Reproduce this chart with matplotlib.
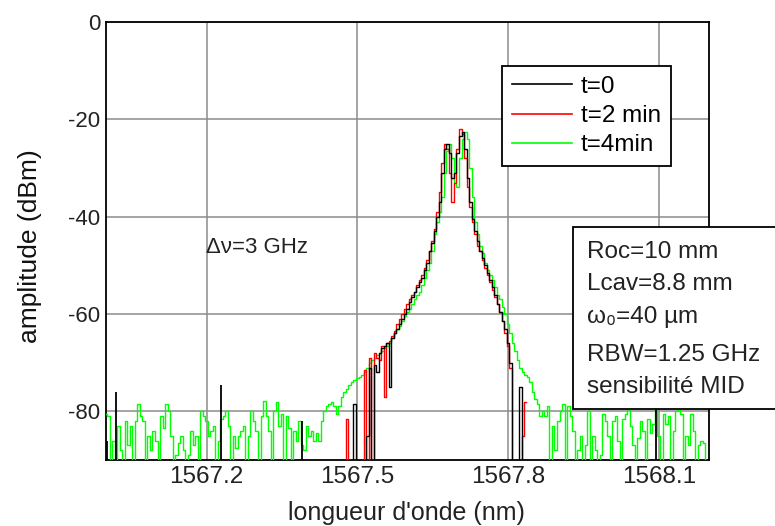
import numpy as np
import matplotlib
matplotlib.use("Agg")
import matplotlib.pyplot as plt
from matplotlib.patches import Rectangle
from matplotlib.lines import Line2D

plt.rcParams['font.family'] = ['Liberation Sans', 'DejaVu Sans']

# ---- data -------------------------------------------------------------
# sampling grid of the spectrum analyser trace (nm), 0.005 nm step
wavelength = np.linspace(1567.0, 1568.2, 241)

# t = 4 min (green) : full trace, values below -90 dBm are under the floor
green_db = [
    -80.5, -81, -95, -86, -95, -83, -88, -95, -82, -87,
    -83, -95, -82, -78.5, -81, -82, -95, -85, -88, -84,
    -86, -95, -81, -83.5, -78.5, -80, -85, -95, -89, -86.5,
    -85, -88, -95, -89, -84, -87, -85, -95, -80, -81,
    -82, -85, -84, -83, -95, -86, -81.5, -81, -80, -83,
    -95, -85, -87.5, -85, -84, -83, -95, -85, -80, -82,
    -84, -95, -81, -77.8, -81, -84, -95, -80, -78, -83,
    -80.5, -95, -81, -83.5, -95, -84, -86, -82, -87, -88,
    -83, -85, -84, -86, -84.5, -86,
    -82, -80, -79, -78.5, -78, -79, -80.5, -79, -77, -76,
    -75.5, -74.5, -74, -73.5, -73.2, -73, -72.5, -72, -71, -70,
    -69.5, -69, -68.5, -68, -67.5, -67, -66.5, -66, -65, -64,
    -63, -62.5, -61.5, -60.5, -59.5, -59, -58, -57, -56, -55.5,
    -54, -52.5, -51, -49.5, -47, -43.5, -41, -39, -36, -31,
    -26.5, -25, -28, -33, -34, -28, -24, -22.5, -24, -30,
    -36, -41, -43.5, -46, -47.5, -49.5, -51, -52, -53, -54.5,
    -56, -57, -58.5, -60, -62, -64, -66, -67.5, -69.5, -71,
    -72, -72.5, -73, -74, -76, -77.5, -78.5, -81, -80,
    -81, -79, -95, -83, -88, -82, -80, -78.5, -95, -79,
    -81, -84, -95, -88, -85, -95, -87, -80, -95, -85,
    -88, -95, -89, -80.5, -82, -85, -95, -82, -81, -86,
    -95, -81.5, -80.5, -78, -83, -87, -95, -85.5, -82, -84,
    -95, -81.5, -84.5, -82.5, -78, -85, -95, -80.5, -82.5, -81,
    -95, -84, -80, -78, -80.5, -95, -85, -87, -80.5, -84,
    -95, -87, -86, -86.5, -95, -95,
]

# t = 0 (black) and t = 2 min (red): central part of the trace (grid points 95..167)
core_start = 95
black_db = [
    -100, -100, -100, -100, -78.5, -100, -100, -100, -100, -85,
    -71, -100, -70.5, -72, -68, -67, -66.5, -66, -75, -65,
    -64, -63, -62, -61, -60, -59, -57.5, -56.5, -55.5, -54.5,
    -53.5, -52.5, -51, -49.5, -47, -45.5, -43, -40, -37, -31,
    -26, -25, -27, -32, -31, -27, -23.5, -22.5, -26, -32,
    -37, -40.5, -43, -45, -47, -48.5, -50, -51.5, -53, -54.5,
    -56, -58, -59.5, -61.5, -63, -66, -70, -100, -100, -100,
    -75, -100, -100,
]
red_db = [
    -100, -81.5, -100, -100, -100, -100, -100, -100, -71.5, -100,
    -69, -100, -68, -69, -69.5, -66.5, -77, -66, -65.5, -64.5,
    -63.5, -62, -61, -60, -59, -58, -57, -56, -55.5, -54,
    -53, -52, -50.5, -49, -47, -45, -42.5, -39, -35, -29,
    -25, -26, -31, -37, -33, -26, -22, -23, -28, -34,
    -38, -41, -43.5, -46, -47, -49, -50.5, -52, -53.5, -55,
    -56.5, -58, -59.5, -61.5, -64, -66.5, -71, -100, -100, -100,
    -100, -85, -78,
]
# isolated black spikes rising out of the noise floor
black_spike_wl = [1567.002, 1567.019, 1567.229, 1567.390, 1568.094]
black_spike_db = [-86, -76, -74.5, -82, -79]

labels = ['t=0', 't=2 min', 't=4min']
colors = ['#000000', '#ff0000', '#00ff00']
xticks = [1567.2, 1567.5, 1567.8, 1568.1]
yticks = [0, -20, -40, -60, -80]
info_lines = ['Roc=10 mm', 'Lcav=8.8 mm', 'ω₀=40 µm', 'RBW=1.25 GHz', 'sensibilité MID']

# ---- figure -----------------------------------------------------------
W, H = 775, 526
fig = plt.figure(figsize=(W / 100, H / 100), dpi=100)
ax = fig.add_axes([106 / W, 1 - 460 / H, (709 - 106) / W, (460 - 22) / H])

core_wl = wavelength[core_start:core_start + len(black_db)]
lw = 1.0
ax.plot(wavelength, green_db, color=colors[2], lw=lw, drawstyle='steps-mid', zorder=3)
ax.plot(core_wl, red_db, color=colors[1], lw=lw, drawstyle='steps-mid', zorder=4)
ax.plot(core_wl, black_db, color=colors[0], lw=lw, drawstyle='steps-mid', zorder=5)
ax.vlines(black_spike_wl, -100, black_spike_db, color=colors[0], lw=1.3, zorder=5)

ax.set_xlim(1567.0, 1568.2)
ax.set_ylim(-90, 0)
ax.set_xticks(xticks)
ax.set_xticklabels([f'{v:.1f}' for v in xticks], fontsize=17.5, color='#222222')
ax.set_yticks(yticks)
ax.set_yticklabels([f'{v:d}' for v in yticks], fontsize=16, color='#222222')
ax.tick_params(length=0, pad=4)
ax.grid(True, color='#8c8c8c', lw=1.1)
ax.set_axisbelow(True)
for s in ax.spines.values():
    s.set_linewidth(1.3)
    s.set_color('black')

fig.text(30 / W, 1 - 246 / H, 'amplitude (dBm)', rotation=90, ha='center', va='center',
         fontsize=19, color='#111111')
fig.text(406 / W, 1 - 513 / H, "longueur d'onde (nm)", ha='center', va='center',
         fontsize=18, color='#222222')

ax.text(1567.0 + (206 - 106) / 503.3, -(253 - 22) / 4.8625, 'Δν=3 GHz', fontsize=16,
        color='#222222', va='baseline', ha='left')

handles = [Line2D([], [], color=c, lw=1.2) for c in colors]
leg = ax.legend(handles, labels, loc='upper left', bbox_to_anchor=(502 / W, 1 - 66 / H),
                bbox_transform=fig.transFigure, borderaxespad=0, fontsize=17.5,
                frameon=True, fancybox=False, edgecolor='black', framealpha=1,
                handlelength=2.5, handletextpad=0.35, labelspacing=0.3, borderpad=0.4)
leg.get_frame().set_linewidth(1.3)
leg.set_zorder(10)

fig.add_artist(Rectangle((573 / W, 1 - 409 / H), 210 / W, (409 - 227) / H,
                         transform=fig.transFigure, facecolor='white', edgecolor='black',
                         lw=1.3, zorder=20))
for txt, yb in zip(info_lines, [258, 290, 323, 361, 393]):
    fig.text(587 / W, 1 - yb / H, txt, fontsize=17.5, color='#222222', va='baseline',
             ha='left', zorder=21)

fig.savefig('out.png', dpi=100)
